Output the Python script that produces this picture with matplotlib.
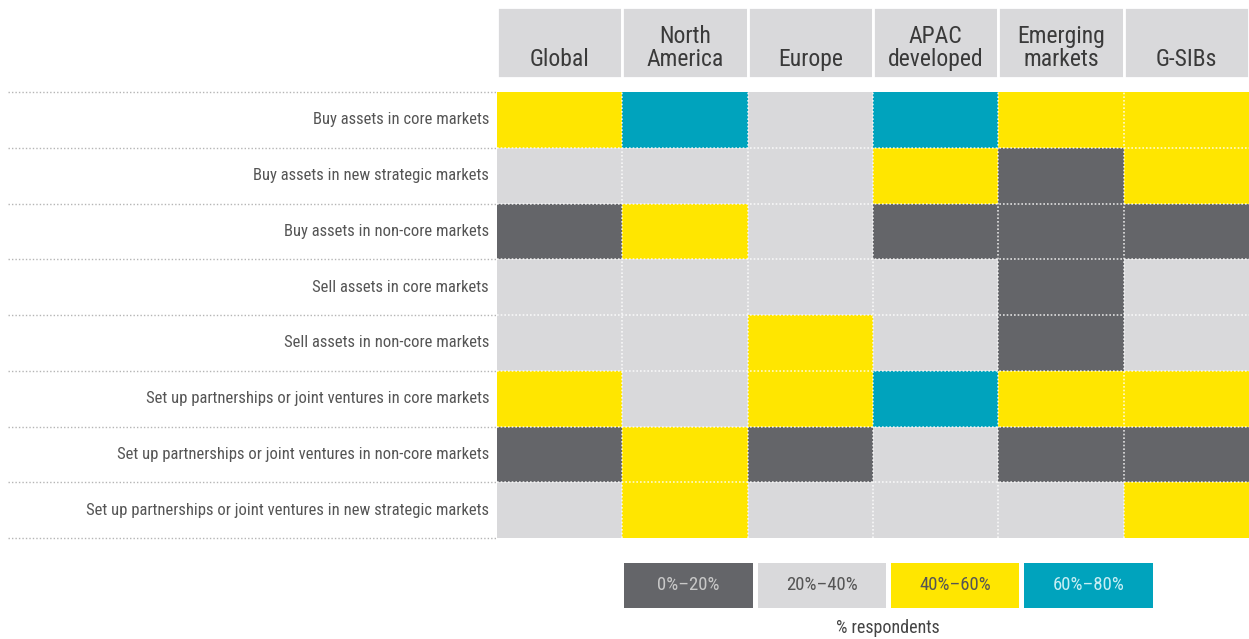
import matplotlib
matplotlib.use("Agg")
import matplotlib.pyplot as plt
import numpy as np
from matplotlib.colors import ListedColormap, BoundaryNorm
from matplotlib import font_manager

names = {f.name for f in font_manager.fontManager.ttflist}
fam = "DejaVu Sans"
for cand in ["Roboto Condensed", "Liberation Sans Narrow", "Open Sans Condensed", "DejaVu Sans"]:
    if cand in names:
        fam = cand
        break
plt.rcParams['font.family'] = [fam, 'DejaVu Sans']
plt.rcParams['font.stretch'] = 'condensed'

columns = ["Global", "North\nAmerica", "Europe", "APAC\ndeveloped", "Emerging\nmarkets", "G-SIBs"]
rows = [
    "Buy assets in core markets",
    "Buy assets in new strategic markets",
    "Buy assets in non-core markets",
    "Sell assets in core markets",
    "Sell assets in non-core markets",
    "Set up partnerships or joint ventures in core markets",
    "Set up partnerships or joint ventures in non-core markets",
    "Set up partnerships or joint ventures in new strategic markets",
]
# category index: 0 = 0%-20%, 1 = 20%-40%, 2 = 40%-60%, 3 = 60%-80%
values = [
    [2, 3, 1, 3, 2, 2],
    [1, 1, 1, 2, 0, 2],
    [0, 2, 1, 0, 0, 0],
    [1, 1, 1, 1, 0, 1],
    [1, 1, 2, 1, 0, 1],
    [2, 1, 2, 3, 2, 2],
    [0, 2, 0, 1, 0, 0],
    [1, 2, 1, 1, 1, 2],
]
legend_labels = ["0%\u201320%", "20%\u201340%", "40%\u201360%", "60%\u201380%"]
colors = ["#646569", "#d9d9db", "#ffe600", "#00a3bd"]
legend_text_colors = ["#c8c8c8", "#555555", "#555555", "#c8eef4"]

W, H = 1249, 639
fig = plt.figure(figsize=(W / 100, H / 100), dpi=100)

def fx(px): return px / W
def fy(py): return 1 - py / H

cmap = ListedColormap(colors)
norm = BoundaryNorm(np.arange(-0.5, 4.5, 1), cmap.N)

# Heatmap
x0, x1, y0, y1 = 497, 1249, 92, 538
ax = fig.add_axes([fx(x0), fy(y1), fx(x1 - x0), fy(y0) - fy(y1)])
data = np.array(values)
ax.pcolormesh(np.arange(len(columns) + 1), np.arange(len(rows) + 1), data,
              cmap=cmap, norm=norm)
ax.set_xlim(0, len(columns))
ax.set_ylim(len(rows), 0)
ax.axis("off")
for i in range(1, len(columns)):
    ax.axvline(i, color="white", lw=1.2, ls=(0, (1, 1.2)), alpha=0.8)
for j in range(1, len(rows)):
    ax.axhline(j, color="white", lw=1.2, ls=(0, (1, 1.2)), alpha=0.8)

# Left labels and grey dotted separators
trans = ax.get_yaxis_transform()
left_ext = -(x0 - 8) / (x1 - x0)
for j in range(len(rows) + 1):
    ax.plot([left_ext, 0], [j, j], transform=trans, color="#b5b5b5", lw=1.0,
            ls=(0, (1, 1.5)), clip_on=False)
for j, r in enumerate(rows):
    ax.text(-8 / (x1 - x0), j + 0.5, r, transform=trans, ha="right", va="center",
            fontsize=12.5, color="#555555")

# shrink labels if too wide to fit
fig.canvas.draw()
rend = fig.canvas.get_renderer()
maxw = max(t.get_window_extent(rend).width for t in ax.texts)
avail = x0 - 8 - 85
if maxw > avail + 1:
    for t in ax.texts:
        t.set_fontsize(12.5 * avail / maxw)

# Header
hx = fig.add_axes([fx(x0), fy(78), fx(x1 - x0), fy(7) - fy(78)])
hx.bar(np.arange(len(columns)) + 0.5, [1] * len(columns), width=1.0,
       color="#d9d9db", edgecolor="white", linewidth=2)
hx.set_xlim(0, len(columns))
hx.set_ylim(0, 1)
hx.axis("off")
for i, c in enumerate(columns):
    hx.text(i + 0.5, 0.1, c, ha="center", va="bottom", fontsize=17,
            color="#3a3a3a", linespacing=1.0)

# Legend
lx = fig.add_axes([fx(622), fy(608), fx(1155 - 622), fy(563) - fy(608)])
lx.bar(np.arange(len(legend_labels)) + 0.5, [1] * len(legend_labels), width=0.965,
       color=colors)
lx.set_xlim(0, len(legend_labels))
lx.set_ylim(0, 1)
lx.axis("off")
for i, (lab, tc) in enumerate(zip(legend_labels, legend_text_colors)):
    lx.text(i + 0.5, 0.5, lab, ha="center", va="center", fontsize=13.5, color=tc)
fig.text(fx(888), fy(628), "% respondents", ha="center", va="center",
         fontsize=13, color="#444444")

fig.savefig("out.png", dpi=100, facecolor="white")
